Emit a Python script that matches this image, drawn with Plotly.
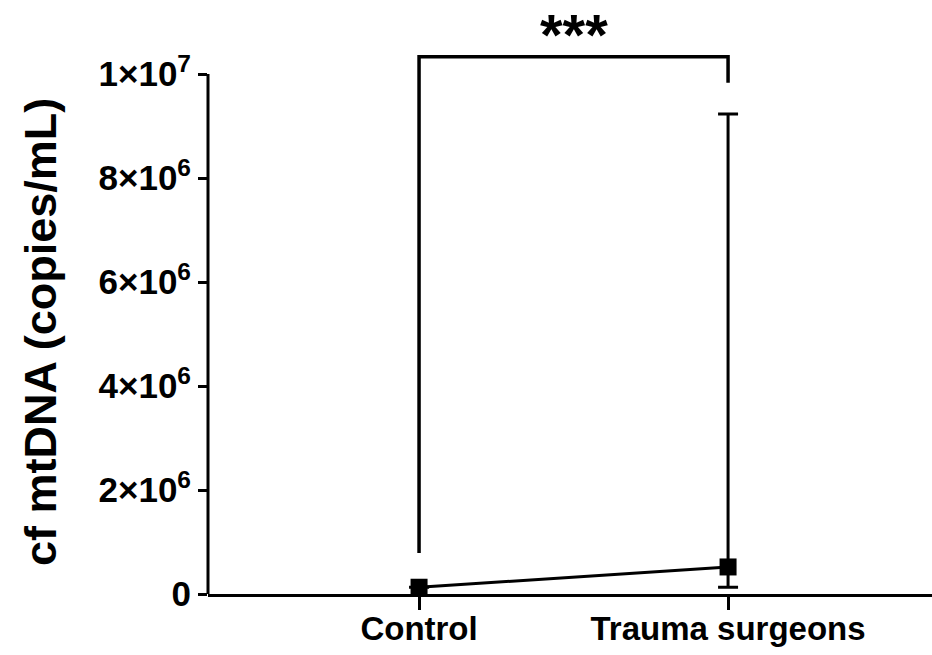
import plotly.graph_objects as go

# Data
categories = ["Control", "Trauma surgeons"]
x_pos = [0, 1]
values = [0.13e6, 0.52e6]
err_plus = [0.0, 8.71e6]
err_minus = [0.0, 0.39e6]

y_tickvals = [0, 2e6, 4e6, 6e6, 8e6, 1e7]
y_ticktext = ["0", "2×10<sup>6</sup>", "4×10<sup>6</sup>", "6×10<sup>6</sup>",
              "8×10<sup>6</sup>", "1×10<sup>7</sup>"]
y_title = "cf mtDNA (copies/mL)"

# significance bracket (data units)
bracket_top = 1.033e7
bracket_left_bottom = 0.79e6
bracket_right_bottom = 9.83e6
sig_label = "***"

FONT = "Liberation Sans, Arial, sans-serif"

fig = go.Figure()
fig.add_trace(go.Scatter(
    x=x_pos, y=values, mode="lines+markers",
    line=dict(color="black", width=3),
    marker=dict(symbol="square", size=17, color="black"),
    error_y=dict(type="data", symmetric=False, array=err_plus, arrayminus=err_minus,
                 color="black", thickness=3, width=10),
    cliponaxis=False, showlegend=False,
))

# bracket
fig.add_trace(go.Scatter(
    x=[x_pos[0], x_pos[0], x_pos[1], x_pos[1]],
    y=[bracket_left_bottom, bracket_top, bracket_top, bracket_right_bottom],
    mode="lines", line=dict(color="black", width=3.5), showlegend=False,
    hoverinfo="skip",
))

fig.add_annotation(x=(x_pos[0] + x_pos[1]) / 2, y=1.0385, text=sig_label,
                   showarrow=False, xref="x", yref="paper", yanchor="top",
                   font=dict(family=FONT, size=58, color="black", weight="bold"))

# y-axis title as rotated annotation
fig.add_annotation(x=-0.232, y=0.458, xref="paper", yref="paper", text=y_title,
                   textangle=-90, showarrow=False, xanchor="center", yanchor="middle",
                   font=dict(family=FONT, size=45, color="black", weight="bold"))

# y-axis line only up to the top tick
fig.add_shape(type="line", xref="paper", yref="y", x0=0, x1=0,
              y0=y_tickvals[0], y1=y_tickvals[-1],
              line=dict(color="black", width=3))

fig.update_xaxes(
    range=[-0.683, 1.66], tickvals=x_pos, ticktext=categories,
    showline=True, linecolor="black", linewidth=3,
    ticks="outside", ticklen=13, tickwidth=3, tickcolor="black",
    ticklabelstandoff=-10,
    showgrid=False, zeroline=False,
    tickfont=dict(family=FONT, size=33, color="black", weight="bold"),
)
fig.update_yaxes(
    range=[0, 1.1e7], tickvals=y_tickvals, ticktext=y_ticktext,
    showline=False, ticks="outside", ticklen=9, tickwidth=3, tickcolor="black",
    showgrid=False, zeroline=False,
    tickfont=dict(family=FONT, size=35, color="black", weight="bold"),
)

fig.update_layout(
    width=932, height=655,
    margin=dict(l=208, r=0, t=22, b=61),
    plot_bgcolor="white", paper_bgcolor="white",
)

fig.write_html("out.html")
